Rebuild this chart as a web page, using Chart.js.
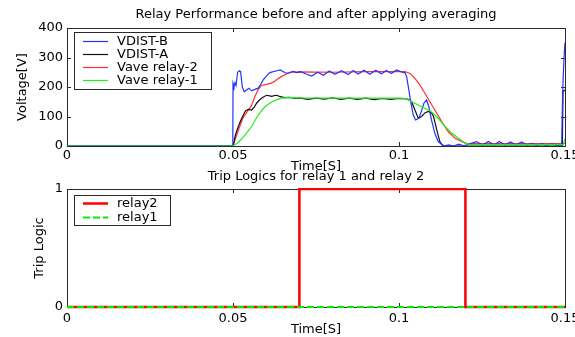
<!DOCTYPE html>
<html>
<head>
<meta charset="utf-8">
<script src="https://cdn.jsdelivr.net/npm/chart.js@4.4.1/dist/chart.umd.min.js"></script>
<style>
  html, body { margin:0; padding:0; background:#fff; }
  #wrap { position:relative; width:575px; height:337px; overflow:hidden; }
  #wrap canvas { position:absolute; left:0; top:0; }
</style>
</head>
<body>
<div id="wrap">
  <canvas id="voltChart" width="575" height="337"></canvas>
  <canvas id="tripChart" width="575" height="337"></canvas>
</div>
<script>
/* ---------- Data (time in s) ---------- */
const xTicks = [0, 0.05, 0.1, 0.15];
const voltTicks = [0, 100, 200, 300, 400];
const tripTicks = [0, 1];

// VDIST-B (blue)
const tVdistB = [0, 0.04995, 0.05, 0.0503, 0.0506, 0.0509, 0.0514, 0.0519, 0.0523, 0.0528, 0.0534, 0.0541, 0.0548, 0.0556, 0.0566, 0.0576,
  0.0584, 0.0591, 0.0601, 0.0611, 0.0622, 0.0632, 0.0642, 0.0652, 0.0662, 0.0672, 0.0682, 0.0692, 0.0704, 0.0720, 0.0737,
  0.0755, 0.0772, 0.0790, 0.0807, 0.0827, 0.0847, 0.0862, 0.0877, 0.0895, 0.0912, 0.0930, 0.0947, 0.0962, 0.0977, 0.0992,
  0.1005, 0.1018, 0.1023, 0.1028, 0.1036, 0.1043, 0.1050, 0.1060, 0.1068, 0.1075, 0.1083, 0.1090, 0.1098, 0.1108, 0.1118,
  0.1129, 0.1135, 0.1150, 0.1165, 0.1180, 0.1195, 0.1215, 0.1234, 0.1252, 0.1269, 0.1286, 0.1302, 0.1319, 0.1336, 0.1352,
  0.1369, 0.1385, 0.1400, 0.1415, 0.1430, 0.1445, 0.1460, 0.1475, 0.1490, 0.1493, 0.1497, 0.1500];
const vVdistB = [0, 0, 212, 200, 214, 205, 250, 255, 252, 200, 184, 190, 196, 187, 192, 196,
  210, 224, 238, 249, 252, 255, 258, 252, 246, 250, 253, 249, 252, 244, 237,
  250, 240, 254, 243, 255, 242, 256, 244, 257, 243, 257, 245, 256, 246, 258,
  252, 248, 235, 201, 145, 105, 88, 94, 120, 145, 156, 133, 88, 43, 15,
  5, 0, 4, 0, 6, 1, 8, 15, 3, 15, 3, 15, 3, 14, 3,
  14, 3, 9, 2, 8, 2, 7, 2, 3, 185, 300, 350];

// VDIST-A (black)
const tVdistA = [0, 0.05, 0.0508, 0.0516, 0.0524, 0.0531, 0.0538, 0.0546, 0.0556, 0.0564, 0.0571, 0.0579, 0.0586, 0.0594, 0.0602,
  0.0610, 0.0617, 0.0625, 0.0632, 0.0640, 0.0655, 0.0670, 0.0685, 0.0700, 0.0725, 0.0750, 0.0775, 0.0800, 0.0825, 0.0850,
  0.0875, 0.0900, 0.0925, 0.0950, 0.0975, 0.1000, 0.1023, 0.1028, 0.1038, 0.1048, 0.1058, 0.1068, 0.1078, 0.1088, 0.1098,
  0.1104, 0.1114, 0.1123, 0.1133, 0.1492, 0.1494, 0.1500];
const vVdistA = [0, 0, 40, 66, 88, 105, 120, 124, 122, 132, 145, 155, 162, 168, 172,
  170, 168, 171, 172, 168, 164, 165, 162, 163, 158, 162, 159, 163, 158, 162,
  158, 162, 157, 161, 158, 161, 160, 158, 150, 122, 94, 100, 112, 117, 112,
  100, 54, 15, 0, 0, 185, 190];

// Vave relay-2 (red)
const tVave2 = [0, 0.05, 0.0515, 0.0530, 0.0545, 0.0555, 0.0565, 0.0575, 0.0585, 0.0595, 0.0605, 0.0615, 0.0625, 0.0635, 0.0647,
  0.0662, 0.0677, 0.0700, 0.0800, 0.0900, 0.1000, 0.1018, 0.1033, 0.1048, 0.1063, 0.1078, 0.1093, 0.1108, 0.1129, 0.1148,
  0.1169, 0.1189, 0.1204, 0.1300, 0.1400, 0.1495, 0.1500];
const vVave2 = [0, 0, 50, 95, 120, 135, 165, 190, 205, 208, 210, 213, 219, 228, 236,
  245, 250, 251, 250, 252, 252, 252, 246, 229, 207, 179, 150, 122, 82, 49,
  26, 15, 9, 8, 8, 8, 10];

// Vave relay-1 (green)
const tVave1 = [0, 0.05, 0.0516, 0.0536, 0.0556, 0.0576, 0.0596, 0.0617, 0.0632, 0.0647, 0.0662, 0.0680, 0.0700, 0.0800, 0.0900,
  0.1000, 0.1023, 0.1038, 0.1058, 0.1078, 0.1098, 0.1118, 0.1139, 0.1159, 0.1179, 0.1199, 0.1215, 0.1300, 0.1400, 0.1495, 0.1500];
const vVave1 = [0, 0, 12, 37, 66, 105, 133, 150, 157, 162, 164, 165, 163, 162, 162,
  162, 161, 150, 139, 128, 116, 94, 66, 43, 26, 9, 5, 5, 5, 5, 25];

// Trip logic
const tRelay2 = [0, 0.07, 0.07, 0.12, 0.12, 0.15];
const vRelay2 = [0, 0, 1, 1, 0, 0];
const tRelay1 = [0, 0.15];
const vRelay1 = [0, 0];

/* ---------- Helpers ---------- */
const pts = (t, v) => t.map((x, i) => ({x, y: v[i]}));
const fmtX = v => v === 0 ? '0' : String(+v.toFixed(2));
const FONT_SIZE = 13;

Chart.defaults.font.family = "'DejaVu Sans', sans-serif";
Chart.defaults.font.size = FONT_SIZE;
Chart.defaults.color = '#000';

// MATLAB-ish box with inward ticks (under the lines) and a boxed legend (over them)
const matlabAxes = {
  id: 'matlabAxes',
  beforeDatasetsDraw(chart) {
    const {ctx, chartArea: a, scales: {x, y}} = chart;
    ctx.save();
    ctx.strokeStyle = '#2a2a2a';
    ctx.lineWidth = 1;
    ctx.strokeRect(Math.round(a.left) + 0.5, Math.round(a.top) + 0.5,
                   Math.round(a.right - a.left), Math.round(a.bottom - a.top));
    ctx.beginPath();
    x.ticks.forEach(tk => {
      const px = Math.round(x.getPixelForValue(tk.value)) + 0.5;
      ctx.moveTo(px, a.bottom); ctx.lineTo(px, a.bottom - 4);
      ctx.moveTo(px, a.top); ctx.lineTo(px, a.top + 4);
    });
    y.ticks.forEach(tk => {
      const py = Math.round(y.getPixelForValue(tk.value)) + 0.5;
      ctx.moveTo(a.left, py); ctx.lineTo(a.left + 4, py);
      ctx.moveTo(a.right, py); ctx.lineTo(a.right - 4, py);
    });
    ctx.stroke();
    ctx.restore();
  },
  afterDatasetsDraw(chart, args, opts) {
    const {ctx, chartArea: a} = chart;
    const L = opts.legend;
    const bx = a.left + L.dx, by = a.top + L.dy;
    ctx.save();
    ctx.fillStyle = '#fff';
    ctx.fillRect(bx, by, L.w, L.h);
    ctx.strokeStyle = '#2a2a2a';
    ctx.lineWidth = 1;
    ctx.strokeRect(bx + 0.5, by + 0.5, L.w, L.h);
    ctx.font = FONT_SIZE + "px 'DejaVu Sans', sans-serif";
    ctx.textBaseline = 'middle';
    chart.data.datasets.forEach((ds, i) => {
      const ry = Math.round(by + L.first + i * L.rowH) + 0.5;
      ctx.strokeStyle = ds.borderColor;
      ctx.lineWidth = ds.borderWidth;
      ctx.setLineDash(ds.borderDash || []);
      ctx.beginPath();
      ctx.moveTo(bx + 9, ry); ctx.lineTo(bx + 34, ry);
      ctx.stroke();
      ctx.setLineDash([]);
      ctx.fillStyle = '#000';
      ctx.fillText(ds.label, bx + 43, ry + 0.5);
    });
    ctx.restore();
  }
};

function axisOpts(yMin, yMax, yTickVals, yTitle, yWidth, xHeight, xPad) {
  return {
    x: {
      type: 'linear', min: 0, max: 0.15,
      grid: {display: false, drawTicks: false}, border: {display: false},
      afterBuildTicks: s => { s.ticks = xTicks.map(v => ({value: v})); },
      ticks: {callback: fmtX, maxRotation: 0, autoSkip: false, padding: xPad},
      title: {display: true, text: 'Time[S]', padding: {top: 0, bottom: 0}},
      afterFit: s => { s.height = xHeight; s.paddingLeft = 0; s.paddingRight = 0; }
    },
    y: {
      type: 'linear', min: yMin, max: yMax,
      grid: {display: false, drawTicks: false}, border: {display: false},
      afterBuildTicks: s => { s.ticks = yTickVals.map(v => ({value: v})); },
      ticks: {padding: 4},
      title: {display: true, text: yTitle, padding: {top: 0, bottom: 0}},
      afterFit: s => { s.width = yWidth; s.paddingTop = 0; s.paddingBottom = 0; }
    }
  };
}

/* ---------- Top: voltages ---------- */
new Chart(document.getElementById('voltChart'), {
  type: 'line',
  data: {
    datasets: [
      {label: 'VDIST-B', data: pts(tVdistB, vVdistB), borderColor: '#2233ff', borderWidth: 1.2, order: 2},
      {label: 'VDIST-A', data: pts(tVdistA, vVdistA), borderColor: '#111111', borderWidth: 1.2, order: 3},
      {label: 'Vave relay-2', data: pts(tVave2, vVave2), borderColor: '#ff3030', borderWidth: 1.2, order: 4},
      {label: 'Vave relay-1', data: pts(tVave1, vVave1), borderColor: '#22ee22', borderWidth: 1.2, order: 1}
    ]
  },
  options: {
    responsive: false, animation: false,
    parsing: false,
    elements: {point: {radius: 0}, line: {tension: 0}},
    layout: {padding: {top: 0, left: 15, right: 10, bottom: 163}},
    scales: axisOpts(0, 400, voltTicks, 'Voltage[V]', 52, 28, 2),
    plugins: {
      legend: {display: false},
      tooltip: {enabled: false},
      title: {display: true, fullSize: false, text: 'Relay Performance before and after applying averaging',
              font: {weight: 'normal', size: FONT_SIZE}, padding: {top: 7, bottom: 5.4}},
      matlabAxes: {legend: {dx: 7, dy: 4, w: 137, h: 57, first: 8.5, rowH: 13.2}}
    }
  },
  plugins: [matlabAxes]
});

/* ---------- Bottom: trip logic ---------- */
new Chart(document.getElementById('tripChart'), {
  type: 'line',
  data: {
    datasets: [
      {label: 'relay2', data: pts(tRelay2, vRelay2), borderColor: '#ff0000', borderWidth: 2.5, order: 2,
       clip: {left: 0, right: 0, top: 1, bottom: 3}},
      {label: 'relay1', data: pts(tRelay1, vRelay1), borderColor: '#00ee00', borderWidth: 2, borderDash: [7, 3], order: 1, clip: 3}
    ]
  },
  options: {
    responsive: false, animation: false,
    parsing: false,
    elements: {point: {radius: 0}, line: {tension: 0}},
    layout: {padding: {top: 168, left: 32, right: 10, bottom: 0}},
    scales: axisOpts(0, 1, tripTicks, 'Trip Logic', 35, 30, 4),
    plugins: {
      legend: {display: false},
      tooltip: {enabled: false},
      title: {display: true, fullSize: false, text: 'Trip Logics for relay 1 and relay 2',
              font: {weight: 'normal', size: FONT_SIZE}, padding: {top: 0.5, bottom: 4.9}},
      matlabAxes: {legend: {dx: 7, dy: 6, w: 96, h: 30, first: 8, rowH: 14}}
    }
  },
  plugins: [matlabAxes]
});
</script>
</body>
</html>
